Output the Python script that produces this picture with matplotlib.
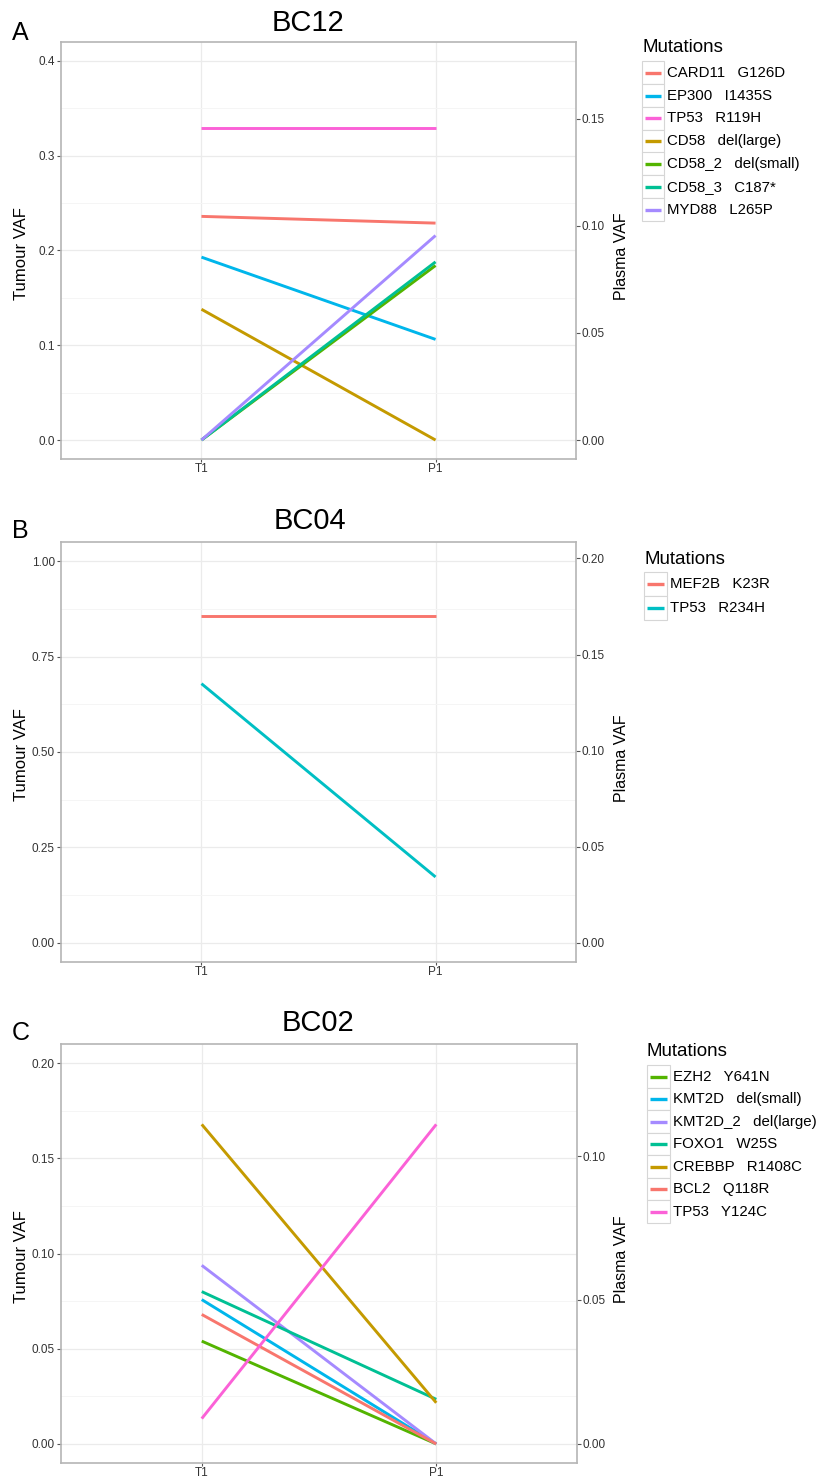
import numpy as np
import matplotlib
matplotlib.use("Agg")
import matplotlib.pyplot as plt
from matplotlib.patches import Rectangle
from matplotlib.lines import Line2D

plt.rcParams['font.family'] = ['Liberation Sans', 'DejaVu Sans']

W, H = 821, 1481  # figure size [px]

timepoints = ["T1", "P1"]

# BC12
bc12_mutations = ["CARD11   G126D", "EP300   I1435S", "TP53   R119H", "CD58   del(large)",
                  "CD58_2   del(small)", "CD58_3   C187*", "MYD88   L265P"]
bc12_tumour = [0.236, 0.193, 0.329, 0.138, 0.0, 0.0, 0.0]
bc12_plasma = [0.1013, 0.047, 0.1456, 0.0, 0.0815, 0.0832, 0.0955]
bc12_colors = ["#F8766D", "#00B6EB", "#FB61D7", "#C49A00", "#53B400", "#00C094", "#A58AFF"]
bc12_left_ticks = [0.0, 0.1, 0.2, 0.3, 0.4]
bc12_right_ticks = [0.0, 0.05, 0.10, 0.15]

# BC04
bc04_mutations = ["MEF2B   K23R", "TP53   R234H"]
bc04_tumour = [0.856, 0.679]
bc04_plasma = [0.170, 0.0343]
bc04_colors = ["#F8766D", "#00BFC4"]
bc04_left_ticks = [0.0, 0.25, 0.50, 0.75, 1.00]
bc04_right_ticks = [0.0, 0.05, 0.10, 0.15, 0.20]

# BC02
bc02_mutations = ["EZH2   Y641N", "KMT2D   del(small)", "KMT2D_2   del(large)", "FOXO1   W25S",
                  "CREBBP   R1408C", "BCL2   Q118R", "TP53   Y124C"]
bc02_tumour = [0.054, 0.0758, 0.0938, 0.080, 0.1678, 0.068, 0.0133]
bc02_plasma = [0.0, 0.0, 0.0, 0.0155, 0.0143, 0.0, 0.111]
bc02_colors = ["#53B400", "#00B6EB", "#A58AFF", "#00C094", "#C49A00", "#F8766D", "#FB61D7"]
bc02_left_ticks = [0.0, 0.05, 0.10, 0.15, 0.20]
bc02_right_ticks = [0.0, 0.05, 0.10]

BORDER = "#B5B5B5"
TEXT_GREY = "#333333"


def fx(x):
    return x / W


def fy(y):
    return 1.0 - y / H


def draw_legend(fig, x0, y_title, y_first, row_h, box_w, labels, colors):
    fig.text(fx(x0), fy(y_title), "Mutations", fontsize=13.5, ha="left", va="center")
    for i, (lab, col) in enumerate(zip(labels, colors)):
        yc = y_first + i * row_h
        fig.add_artist(Rectangle((fx(x0), fy(yc + row_h / 2)), box_w / W, row_h / H,
                                 transform=fig.transFigure, facecolor="white",
                                 edgecolor="#D6D6D6", lw=0.8))
        fig.add_artist(Line2D([fx(x0 + 3), fx(x0 + box_w - 3)], [fy(yc), fy(yc)],
                              transform=fig.transFigure, color=col, lw=2.4,
                              solid_capstyle="butt"))
        fig.text(fx(x0 + box_w + 3), fy(yc), lab, fontsize=10.8, ha="left", va="center")


def draw_panel(fig, rect, tumour, plasma, colors, left_ticks, right_ticks, left_fmt):
    left, top, right, bottom = rect
    ax = fig.add_axes([fx(left), fy(bottom), (right - left) / W, (bottom - top) / H])

    # plasma values are rescaled onto the tumour axis
    f = max(tumour) / max(plasma)
    for t, p, c in zip(tumour, plasma, colors):
        ax.plot([1, 2], [t, p * f], color=c, lw=2.1, solid_capstyle="butt", zorder=3)

    lo, hi = left_ticks[0], left_ticks[-1]
    pad = 0.05 * (hi - lo)
    ax.set_ylim(lo - pad, hi + pad)
    ax.set_xlim(0.4, 2.6)
    ax.set_xticks([1, 2], timepoints)
    ax.set_yticks(left_ticks)
    ax.set_yticklabels([left_fmt.format(v) for v in left_ticks])
    step = left_ticks[1] - left_ticks[0]
    ax.set_yticks(np.array(left_ticks[:-1]) + step / 2, minor=True)

    ax.grid(True, which="major", color="#EBEBEB", lw=0.9, zorder=0)
    ax.grid(True, which="minor", axis="y", color="#F5F5F5", lw=0.7, zorder=0)
    ax.set_axisbelow(True)
    for s in ax.spines.values():
        s.set_color(BORDER)
        s.set_linewidth(1.2)
    ax.tick_params(which="major", length=3, width=0.8, color="#555555",
                   labelsize=8.5, labelcolor=TEXT_GREY, pad=1.5)
    ax.tick_params(axis="x", length=2.5, pad=0.5)
    ax.tick_params(which="minor", length=0)

    sec = ax.secondary_yaxis("right", functions=(lambda y: y / f, lambda y: y * f))
    sec.set_yticks(right_ticks)
    sec.set_yticklabels(["{:.2f}".format(v) for v in right_ticks])
    sec.spines["right"].set_visible(False)
    sec.tick_params(length=3, width=0.8, color="#555555", labelsize=8.5,
                    labelcolor=TEXT_GREY, pad=1)
    return ax


def main():
    fig = plt.figure(figsize=(W / 100, H / 100), dpi=100)

    panels = [
        ("A", "BC12", (61, 42, 576, 459), 31, 308, bc12_tumour, bc12_plasma, bc12_colors,
         bc12_left_ticks, bc12_right_ticks, "{:.1f}", bc12_mutations, (642, 47, 72.7, 22.8, 22)),
        ("B", "BC04", (61, 542, 576, 962), 529, 310, bc04_tumour, bc04_plasma, bc04_colors,
         bc04_left_ticks, bc04_right_ticks, "{:.2f}", bc04_mutations, (644, 560, 584.3, 23.7, 23)),
        ("C", "BC02", (61, 1044, 577, 1463), 1031, 318, bc02_tumour, bc02_plasma, bc02_colors,
         bc02_left_ticks, bc02_right_ticks, "{:.2f}", bc02_mutations, (647, 1052, 1076.7, 22.5, 23)),
    ]

    for letter, title, rect, title_y, title_x, tum, pla, cols, lt, rt, fmt, labels, leg in panels:
        draw_panel(fig, rect, tum, pla, cols, lt, rt, fmt)
        left, top, right, bottom = rect
        yc = (top + bottom) / 2
        fig.text(fx(title_x), fy(title_y), title, fontsize=21, ha="center", va="baseline")
        fig.text(fx(12), fy(title_y + 9), letter, fontsize=18, ha="left", va="baseline")
        fig.text(fx(21), fy(yc + 3), "Tumour VAF", fontsize=12, rotation=90,
                 ha="center", va="center")
        fig.text(fx(621), fy(yc + 6), "Plasma VAF", fontsize=11.5, rotation=90,
                 ha="center", va="center")
        x0, y_title, y_first, row_h, box_w = leg
        draw_legend(fig, x0, y_title, y_first, row_h, box_w, labels, cols)

    fig.savefig("out.png", dpi=100)


if __name__ == '__main__':
    main()
